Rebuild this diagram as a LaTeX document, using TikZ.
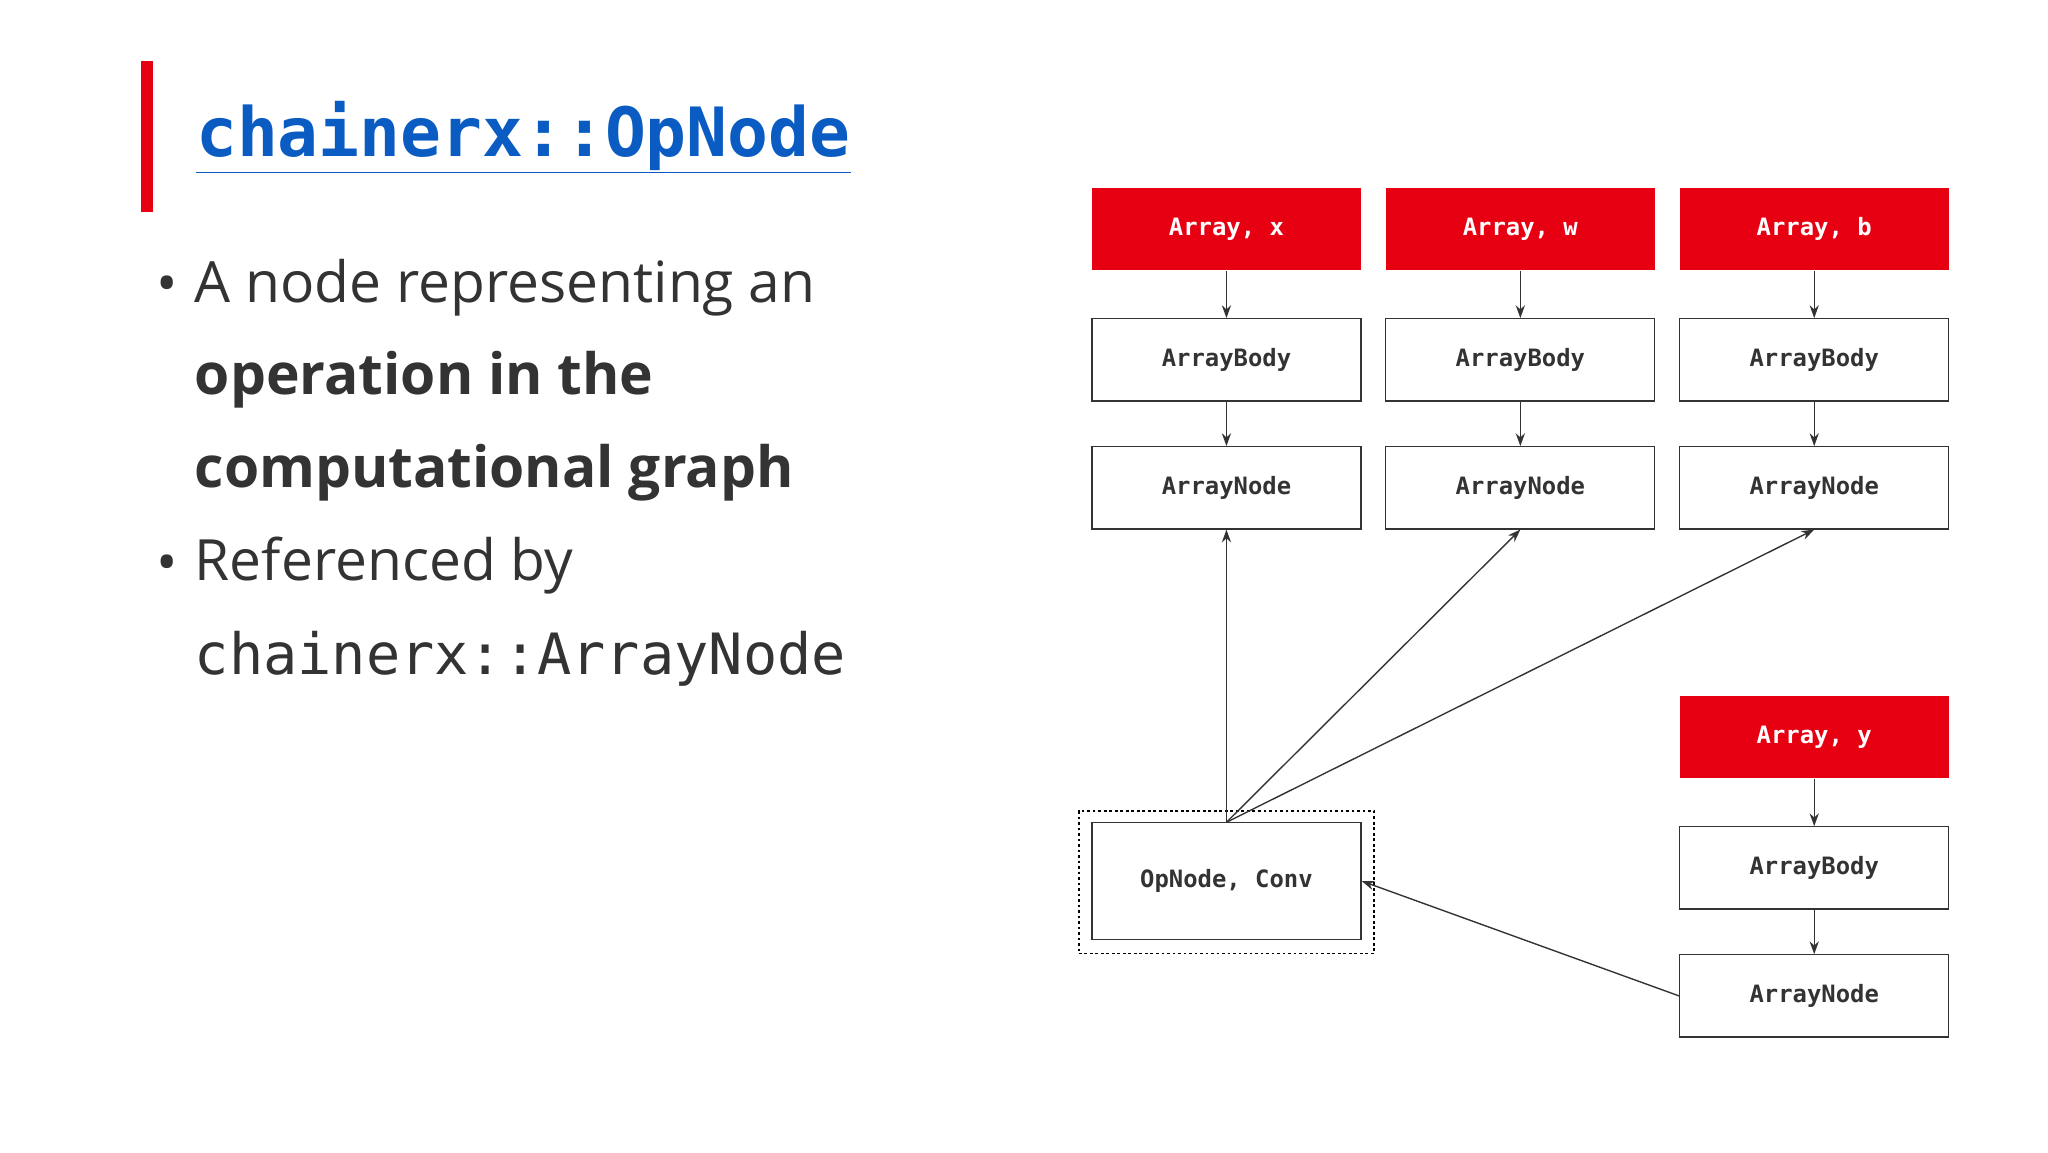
\documentclass[tikz,border=0pt]{standalone}
\usepackage{fontspec}
\setmainfont{Open Sans}
\setmonofont{DejaVu Sans Mono}
\usetikzlibrary{arrows.meta}
\definecolor{cred}{HTML}{E60012}
\definecolor{cblue}{HTML}{0A5CC2}
\definecolor{ctext}{HTML}{333333}
\begin{document}
\begin{tikzpicture}[x=0.05cm,y=-0.05cm,
  box/.style={draw=ctext,line width=1.3pt,minimum width=10.3cm,minimum height=3.15cm,inner sep=0pt,font=\ttfamily\bfseries\fontsize{26}{30}\selectfont,text=ctext},
  rbox/.style={fill=cred,minimum width=10.3cm,minimum height=3.15cm,inner sep=0pt,font=\ttfamily\bfseries\fontsize{26}{30}\selectfont,text=white},
  arr/.style={draw=ctext,line width=1.5pt,-{Stealth[length=14pt,width=10pt]}},
  txt/.style={anchor=west,inner sep=0pt,text=ctext,font=\fontsize{62}{70}\selectfont}]
\useasboundingbox (0,0) rectangle (1568,882);
\fill[white] (0,0) rectangle (1568,882);
\fill[cred] (108,47) rectangle (117,162);
\node[anchor=west,inner sep=0pt,text=cblue,font=\ttfamily\bfseries\fontsize{74}{80}\selectfont] (title) at (150,105) {\underline{chainerx::OpNode}};
\node[txt] (b1) at (120,222) {\textbullet};
\node[txt] (l1) at (149,220) {A node representing an};
\node[txt,font=\bfseries\fontsize{62}{70}\selectfont] (l2) at (149,291) {operation in the};
\node[txt,font=\bfseries\fontsize{62}{70}\selectfont] (l3) at (149,362) {computational graph};
\node[txt] (b2) at (120,435) {\textbullet};
\node[txt] (l4) at (149,433) {Referenced by};
\node[txt,font=\ttfamily\fontsize{62}{70}\selectfont] (l5) at (149,504) {chainerx::ArrayNode};
\foreach \n/\x/\v in {x/939/x,w/1164/w,b/1389/b}{
  \node[rbox] (a\n) at (\x,175.5) {Array, \v};
  \node[box] (ab\n) at (\x,275.5) {ArrayBody};
  \node[box] (an\n) at (\x,373.5) {ArrayNode};
  \draw[arr] (a\n) -- (ab\n);
  \draw[arr] (ab\n) -- (an\n);
}
\node[rbox] (ay) at (1389,564.5) {Array, y};
\node[box] (aby) at (1389,664.5) {ArrayBody};
\node[box] (any) at (1389,762.5) {ArrayNode};
\draw[arr] (ay) -- (aby);
\draw[arr] (aby) -- (any);
\node[box,minimum height=4.45cm] (op) at (939,674.5) {OpNode, Conv};
\node[draw=black,dashed,line width=1.5pt,minimum width=11.3cm,minimum height=5.45cm,inner sep=0pt] (dash) at (939,675.5) {};
\draw[arr] (op.north) -- (anx.south);
\draw[arr] (op.north) -- (anw.south);
\draw[arr] (op.north) -- (anb.south);
\draw[arr] (any.west) -- (op.east);
\end{tikzpicture}
\end{document}
